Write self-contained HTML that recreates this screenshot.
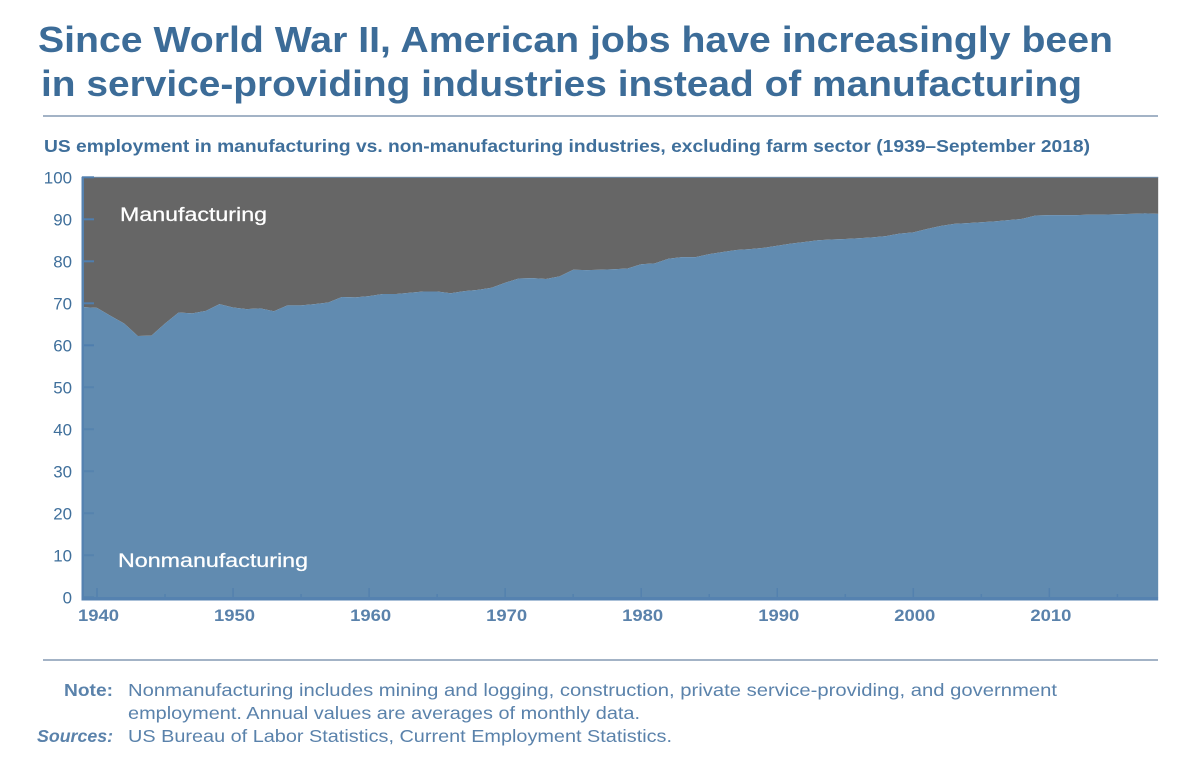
<!DOCTYPE html>
<html lang="en">
<head>
<meta charset="utf-8">
<title>US employment in manufacturing vs. non-manufacturing</title>
<style>
html,body{margin:0;padding:0;background:#fff;width:1200px;height:768px;overflow:hidden}
svg{display:block}
text{font-family:"Liberation Sans",sans-serif}
</style>
</head>
<body>
<svg id="chart" width="1200" height="768" viewBox="0 0 1200 768" xmlns="http://www.w3.org/2000/svg">
  <text x="38" y="52" font-size="36" font-weight="700" fill="#3c6c98" textLength="1075" lengthAdjust="spacingAndGlyphs">Since World War II, American jobs have increasingly been</text>
  <text x="41" y="96" font-size="36" font-weight="700" fill="#3c6c98" textLength="1041" lengthAdjust="spacingAndGlyphs">in service-providing industries instead of manufacturing</text>
  <rect x="43" y="115" width="1115" height="2" fill="#a3b3c6"/>
  <text x="44" y="152" font-size="17.5" font-weight="700" fill="#3f6f9b" textLength="1046" lengthAdjust="spacingAndGlyphs">US employment in manufacturing vs. non-manufacturing industries, excluding farm sector (1939–September 2018)</text>
  <g id="plot"></g>
  <text x="120" y="221" font-size="19.5" fill="#ffffff" stroke="#ffffff" stroke-width="0.25" textLength="147" lengthAdjust="spacingAndGlyphs">Manufacturing</text>
  <text x="118" y="567" font-size="19.5" fill="#ffffff" stroke="#ffffff" stroke-width="0.25" textLength="190" lengthAdjust="spacingAndGlyphs">Nonmanufacturing</text>
  <rect x="43" y="659" width="1115" height="2" fill="#a3b3c6"/>
  <text x="64" y="696" font-size="17.5" font-weight="700" fill="#5a82ab" textLength="49" lengthAdjust="spacingAndGlyphs">Note:</text>
  <text x="128" y="696" font-size="17.5" fill="#5a82ab" textLength="929" lengthAdjust="spacingAndGlyphs">Nonmanufacturing includes mining and logging, construction, private service-providing, and government</text>
  <text x="128" y="719" font-size="17.5" fill="#5a82ab" textLength="512" lengthAdjust="spacingAndGlyphs">employment. Annual values are averages of monthly data.</text>
  <text x="37" y="742" font-size="17.5" font-weight="700" font-style="italic" fill="#5a82ab" textLength="76" lengthAdjust="spacingAndGlyphs">Sources:</text>
  <text x="128" y="742" font-size="17.5" fill="#5a82ab" textLength="544" lengthAdjust="spacingAndGlyphs">US Bureau of Labor Statistics, Current Employment Statistics.</text>
</svg>
<script>
const startYear = 1939;
const nonmanufacturing = [
  69.1,68.9,67.0,65.2,62.2,62.3,65.2,67.8,67.6,68.2,
  69.8,69.0,68.6,68.8,68.1,69.5,69.5,69.8,70.2,71.5,
  71.4,71.7,72.2,72.2,72.5,72.8,72.8,72.4,72.9,73.2,
  73.7,74.9,75.9,76.0,75.8,76.4,78.0,77.9,78.0,78.1,
  78.3,79.3,79.5,80.6,81.0,81.0,81.7,82.2,82.7,82.9,
  83.2,83.7,84.2,84.6,85.0,85.2,85.3,85.5,85.7,86.0,
  86.6,86.9,87.7,88.4,88.9,89.1,89.3,89.5,89.8,90.1,
  90.9,91.0,91.0,91.0,91.1,91.1,91.2,91.3,91.4,91.3
];
const yTicks = [0,10,20,30,40,50,60,70,80,90,100];
const xMajorTicks = [1940,1950,1960,1970,1980,1990,2000,2010];
const xMinorTicks = [1945,1955,1965,1975,1985,1995,2005,2015];

const NS = 'http://www.w3.org/2000/svg';
const plot = document.getElementById('plot');
const xScale = function (year) { return 97 + (year - 1940) * 13.605; };
const yScale = function (v) { return 597.3 - v * 4.2; };
const years = nonmanufacturing.map(function (_, i) { return startYear + i; });
const xStart = xScale(years[0]);
const xEnd = xScale(years[years.length - 1]);

function add(tag, attrs) {
  const el = document.createElementNS(NS, tag);
  Object.keys(attrs).forEach(function (k) { el.setAttribute(k, attrs[k]); });
  plot.appendChild(el);
  return el;
}

const linePts = years.map(function (y, i) {
  return xScale(y).toFixed(2) + ',' + yScale(nonmanufacturing[i]).toFixed(2);
});

const mfg = add('polygon', {
  points: linePts.join(' ') + ' ' + xEnd + ',' + yScale(100) + ' ' + xStart + ',' + yScale(100),
  fill: '#666666'
});



const non = add('polygon', {
  points: linePts.join(' ') + ' ' + xEnd + ',' + yScale(0) + ' ' + xStart + ',' + yScale(0),
  fill: '#618bb0'
});



const topLine = add('rect', { x: 82, y: yScale(100) - 0.5, width: xEnd - 82, height: 1, fill: '#6d8cab' });



yTicks.forEach(function (v) {
  const tick = add('rect', { x: 82, y: yScale(v) - 1, width: 12, height: 2, fill: '#4f7eae', opacity: v < 60 ? 0.6 : 1 });
  
  
  const label = add('text', { x: 72, y: yScale(v) + 6, 'font-size': 17, fill: '#3f6f9b', 'text-anchor': 'end', textLength: String(v).length * 9.4, lengthAdjust: 'spacingAndGlyphs' });
  
  
  label.textContent = String(v);
});

xMajorTicks.forEach(function (yr) {
  const tick = add('rect', { x: xScale(yr) - 0.75, y: 588, width: 1.5, height: 11, fill: '#4f7eae', opacity: 0.75 });
  
  
  const label = add('text', { x: xScale(yr) + 1.5, y: 621, 'font-size': 17, 'font-weight': 700, fill: '#5a82ab', 'text-anchor': 'middle', textLength: 41, lengthAdjust: 'spacingAndGlyphs' });
  
  
  label.textContent = String(yr);
});

xMinorTicks.forEach(function (yr) {
  const tick = add('rect', { x: xScale(yr) - 0.75, y: 594, width: 1.5, height: 5, fill: '#4f7eae', opacity: 0.75 });
  
  
});

const yAxis = add('rect', { x: 81.5, y: yScale(100) - 0.5, width: 2.5, height: 600.5 - yScale(100), fill: '#5582b0' });



const xAxis = add('rect', { x: 81.5, y: 597, width: xEnd - 81.5, height: 3.5, fill: '#5582b0' });


</script>
</body>
</html>
